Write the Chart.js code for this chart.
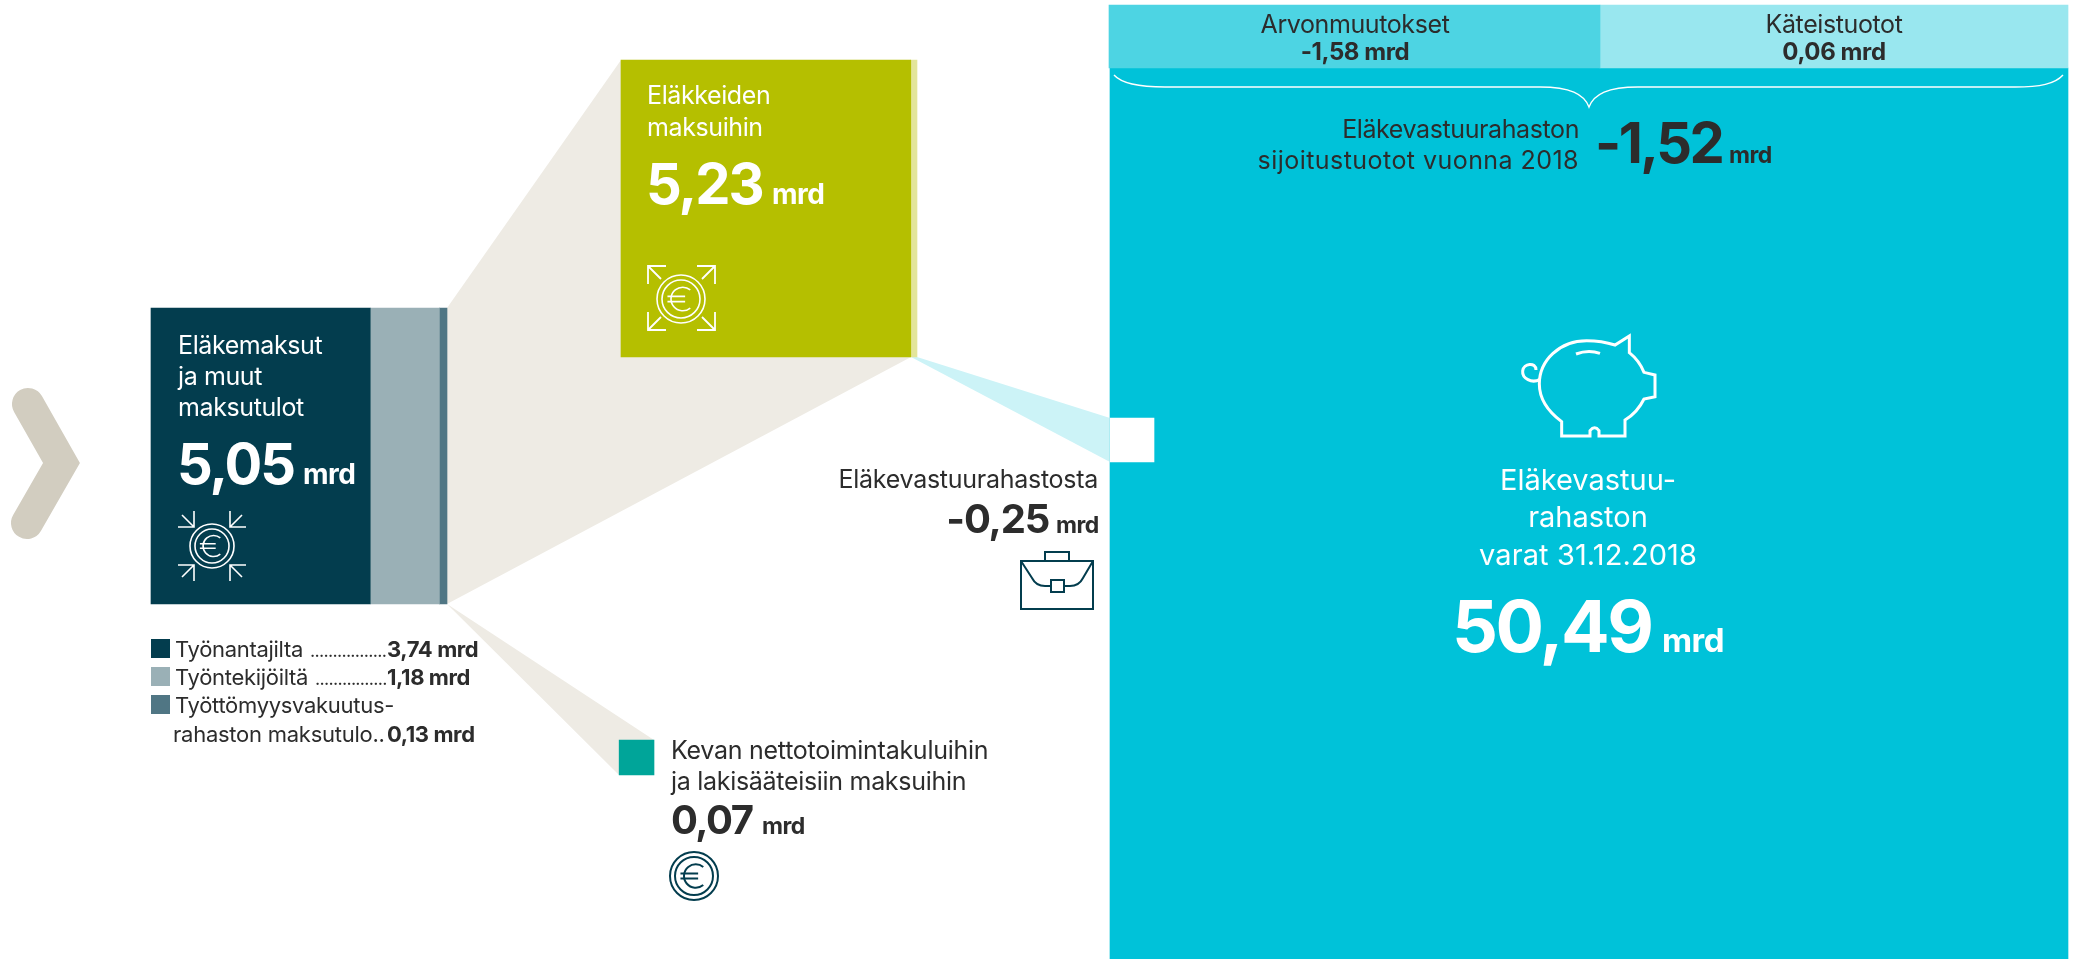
<!DOCTYPE html>
<html lang="fi">
<head>
<meta charset="utf-8">
<title>Eläkevastuurahasto 2018</title>
<script src="https://cdn.jsdelivr.net/npm/chart.js@4"></script>
<style>
  html, body { margin: 0; background: #fff; }
  canvas { display: block; }
</style>
</head>
<body>
<canvas id="flowChart" width="2075" height="959"></canvas>
<script>
// Values in billions of euros
const incomeLabels = ['Työnantajilta', 'Työntekijöiltä', 'Työttömyysvakuutus-'];
const incomeValues = [3.74, 1.18, 0.13];
const incomeTotal = 5.05;
const pensionValues = [5.12, 0.11];
const pensionTotal = 5.23;
const costValue = 0.07;
const fundTransfer = -0.25;
const returnLabels = ['Arvonmuutokset', 'Käteistuotot'];
const returnValues = [-1.58, 0.06];
const returnTotal = -1.52;
const fundAssets = 50.49;

const incomeColors = ['#033d4e', '#9ab0b6', '#507684'];
const pensionColors = ['#b5bf00', '#e3e59a'];
const returnColors = ['#4dd4e3', '#99e7ef'];
const DARK = '#033d4e', INK = '#2c2c2c', WHITE = '#ffffff';

const PX_PER_MRD_AREA = 17350; // the small square is sized by area

const fi = (v) => v.toFixed(2).replace('.', ',');

function bar(x0, x1, top, bottom, color) {
    return {
        data: [{ x: [x0, x1], y: (top + bottom) / 2 }],
        barThickness: bottom - top,
        backgroundColor: color,
        grouped: false,
    };
}

// Splits a box of the given width between the parts of a total
function splitBars(values, colors, left, width, top, bottom) {
    const total = values.reduce((a, b) => a + b, 0);
    let cur = left;
    return values.map((v, i) => {
        const next = cur + (v / total) * width;
        const b = bar(cur, next, top, bottom, colors[i]);
        cur = next;
        return b;
    });
}

const costSide = Math.sqrt(costValue * PX_PER_MRD_AREA);

// First dataset ends up on top when drawn
const datasets = [
    bar(1110, 1154, 418, 462, WHITE),
    ...splitBars(incomeValues, incomeColors, 151, 296, 308, 604),
    ...splitBars(pensionValues, pensionColors, 621, 296, 60, 357),
    bar(654 - costSide, 654, 740, 740 + costSide, '#00a599'),
    bar(1109, 1600, 5, 68, returnColors[0]),
    bar(1600, 2068, 5, 68, returnColors[1]),
    bar(1110, 2068, 68, 959, '#00c2d9'),
];

const FONT = 'Inter, "Noto Sans", sans-serif';

function text(ctx, str, x, y, size, opts = {}) {
    ctx.font = `${opts.weight || 400} ${size}px ${FONT}`;
    ctx.fillStyle = opts.color || INK;
    ctx.textAlign = opts.align || 'left';
    ctx.textBaseline = 'alphabetic';
    ctx.letterSpacing = (opts.spacing || 0) + 'px';
    ctx.fillText(str, x, y);
    ctx.letterSpacing = '0px';
}

function poly(ctx, pts, color) {
    ctx.beginPath();
    pts.forEach(([x, y], i) => (i ? ctx.lineTo(x, y) : ctx.moveTo(x, y)));
    ctx.closePath();
    ctx.fillStyle = color;
    ctx.fill();
}

function coin(ctx, cx, cy, rOut, rIn, color, lw) {
    ctx.strokeStyle = color;
    ctx.lineWidth = lw;
    ctx.beginPath(); ctx.arc(cx, cy, rOut, 0, Math.PI * 2); ctx.stroke();
    ctx.beginPath(); ctx.arc(cx, cy, rIn, 0, Math.PI * 2); ctx.stroke();
    // euro sign
    const r = rIn * 0.62;
    ctx.beginPath();
    ctx.arc(cx + r * 0.15, cy, r, Math.PI * 0.28, Math.PI * 1.72);
    ctx.stroke();
    ctx.beginPath();
    ctx.moveTo(cx - r * 1.15, cy - r * 0.22); ctx.lineTo(cx + r * 0.35, cy - r * 0.22);
    ctx.moveTo(cx - r * 1.15, cy + r * 0.22); ctx.lineTo(cx + r * 0.35, cy + r * 0.22);
    ctx.stroke();
}

// Corner arrow with its head at (hx, hy), sx/sy give the direction the arms run
function arrow(ctx, hx, hy, sx, sy, arm, tail) {
    ctx.beginPath();
    ctx.moveTo(hx + sx * arm, hy);
    ctx.lineTo(hx, hy);
    ctx.lineTo(hx, hy + sy * arm);
    ctx.moveTo(hx, hy);
    ctx.lineTo(hx + sx * tail, hy + sy * tail);
    ctx.stroke();
}

function briefcase(ctx) {
    ctx.strokeStyle = DARK;
    ctx.lineWidth = 2;
    ctx.strokeRect(1021, 561, 72, 48);
    ctx.strokeRect(1045, 552, 24, 9);
    ctx.strokeRect(1051, 580, 13, 12);
    ctx.beginPath();
    ctx.moveTo(1021, 561);
    ctx.lineTo(1032, 578);
    ctx.quadraticCurveTo(1036, 586, 1045, 586);
    ctx.lineTo(1051, 586);
    ctx.moveTo(1064, 586);
    ctx.lineTo(1070, 586);
    ctx.quadraticCurveTo(1079, 586, 1083, 578);
    ctx.lineTo(1093, 561);
    ctx.stroke();
}

function piggy(ctx) {
    const px = (x) => 1400 + x / 3, py = (y) => 310 + y / 3;
    ctx.strokeStyle = WHITE;
    ctx.lineWidth = 3;
    ctx.lineJoin = 'miter';
    ctx.beginPath();
    ctx.moveTo(px(485), py(378));
    ctx.lineTo(px(485), py(335));
    ctx.bezierCurveTo(px(445), py(305), px(418), py(270), px(418), py(222));
    ctx.bezierCurveTo(px(418), py(150), px(480), py(92), px(560), py(92));
    ctx.quadraticCurveTo(px(605), py(92), px(645), py(105));
    ctx.lineTo(px(688), py(78));
    ctx.lineTo(px(688), py(128));
    ctx.quadraticCurveTo(px(718), py(152), px(732), py(187));
    ctx.lineTo(px(765), py(195));
    ctx.lineTo(px(765), py(260));
    ctx.lineTo(px(732), py(267));
    ctx.quadraticCurveTo(px(712), py(308), px(675), py(330));
    ctx.lineTo(px(675), py(378));
    ctx.lineTo(px(597), py(378));
    ctx.lineTo(px(597), py(362));
    ctx.quadraticCurveTo(px(584), py(345), px(570), py(362));
    ctx.lineTo(px(570), py(378));
    ctx.closePath();
    ctx.stroke();
    // coin slot
    ctx.beginPath();
    ctx.moveTo(px(528), py(132));
    ctx.quadraticCurveTo(px(565), py(118), px(600), py(130));
    ctx.stroke();
    // tail
    ctx.beginPath();
    ctx.moveTo(px(420), py(208));
    ctx.bezierCurveTo(px(395), py(222), px(366), py(205), px(368), py(183));
    ctx.bezierCurveTo(px(370), py(160), px(408), py(155), px(408), py(180));
    ctx.stroke();
}

function brace(ctx) {
    ctx.strokeStyle = WHITE;
    ctx.lineWidth = 1.4;
    ctx.beginPath();
    ctx.moveTo(1114, 75);
    ctx.bezierCurveTo(1122, 84, 1140, 87, 1165, 87);
    ctx.lineTo(1540, 87);
    ctx.bezierCurveTo(1570, 87, 1584, 94, 1589, 107);
    ctx.bezierCurveTo(1594, 94, 1608, 87, 1638, 87);
    ctx.lineTo(2015, 87);
    ctx.bezierCurveTo(2040, 87, 2055, 84, 2063, 75);
    ctx.stroke();
}

// Connectors, chevron and legend swatches go under the bars
const underlay = {
    id: 'underlay',
    beforeDatasetsDraw(chart) {
        const { ctx } = chart;
        ctx.save();
        poly(ctx, [[447, 308], [621, 60], [911, 357], [447, 604]], '#eeebe4');
        poly(ctx, [[447, 604], [654, 740], [619, 775]], '#eeebe4');
        poly(ctx, [[911, 357], [917, 357], [1110, 418], [1110, 462]], '#ccf3f7');
        ctx.strokeStyle = '#d2cdc0';
        ctx.lineWidth = 32;
        ctx.lineCap = 'round';
        ctx.lineJoin = 'miter';
        ctx.beginPath();
        ctx.moveTo(28, 404);
        ctx.lineTo(61.5, 463);
        ctx.lineTo(27, 523);
        ctx.stroke();
        ctx.lineCap = 'butt';
        incomeColors.forEach((c, i) => {
            ctx.fillStyle = c;
            ctx.fillRect(151, 639 + i * 28, 19, 19);
        });
        ctx.restore();
    },
};

// All labels and icons sit on top of the bars
const overlay = {
    id: 'overlay',
    afterDatasetsDraw(chart) {
        const { ctx } = chart;
        ctx.save();

        // contributions box
        text(ctx, 'Eläkemaksut', 178, 354, 25, { color: WHITE, spacing: -0.4 });
        text(ctx, 'ja muut', 178, 385, 25, { color: WHITE, spacing: -0.4 });
        text(ctx, 'maksutulot', 178, 416, 25, { color: WHITE, spacing: -0.4 });
        text(ctx, fi(incomeTotal), 177, 484, 56, { color: WHITE, weight: 700, spacing: -2 });
        text(ctx, 'mrd', 303, 484, 28, { color: WHITE, weight: 700, spacing: -0.5 });
        coin(ctx, 212, 546, 22, 17, WHITE, 1.6);
        ctx.strokeStyle = WHITE;
        ctx.lineWidth = 1.6;
        arrow(ctx, 194, 527, -1, -1, 16, 12);
        arrow(ctx, 230, 527, 1, -1, 16, 12);
        arrow(ctx, 194, 565, -1, 1, 16, 12);
        arrow(ctx, 230, 565, 1, 1, 16, 12);

        // contributions legend
        text(ctx, incomeLabels[0], 175, 657, 22, { spacing: -0.3 });
        text(ctx, '.'.repeat(17), 310, 657, 18, { spacing: -0.7 });
        text(ctx, fi(incomeValues[0]) + ' mrd', 387, 657, 22, { weight: 700, spacing: -0.4 });
        text(ctx, incomeLabels[1], 175, 685, 22, { spacing: -0.3 });
        text(ctx, '.'.repeat(16), 315, 685, 18, { spacing: -0.7 });
        text(ctx, fi(incomeValues[1]) + ' mrd', 387, 685, 22, { weight: 700, spacing: -0.4 });
        text(ctx, incomeLabels[2], 175, 713, 22, { spacing: -0.3 });
        text(ctx, 'rahaston maksutulo..', 173, 742, 22, { spacing: -0.25 });
        text(ctx, fi(incomeValues[2]) + ' mrd', 387, 742, 22, { weight: 700, spacing: -0.4 });

        // pension payments box
        text(ctx, 'Eläkkeiden', 647, 104, 25, { color: WHITE, spacing: -0.4 });
        text(ctx, 'maksuihin', 647, 136, 25, { color: WHITE, spacing: -0.4 });
        text(ctx, fi(pensionTotal), 646, 204, 56, { color: WHITE, weight: 700, spacing: -2 });
        text(ctx, 'mrd', 772, 204, 28, { color: WHITE, weight: 700, spacing: -0.5 });
        coin(ctx, 681, 299, 24, 19, WHITE, 1.6);
        ctx.strokeStyle = WHITE;
        ctx.lineWidth = 1.8;
        arrow(ctx, 648, 266, 1, 1, 18, 13);
        arrow(ctx, 715, 266, -1, 1, 18, 13);
        arrow(ctx, 648, 330, 1, -1, 18, 13);
        arrow(ctx, 715, 330, -1, -1, 18, 13);

        // transfer from the fund
        text(ctx, 'Eläkevastuurahastosta', 1098, 488, 25, { align: 'right', spacing: -0.27 });
        text(ctx, fi(fundTransfer), 1049, 533, 40, { align: 'right', weight: 700, spacing: -1.2 });
        text(ctx, 'mrd', 1056, 533, 23, { weight: 700, spacing: -0.5 });
        briefcase(ctx);

        // running costs
        text(ctx, 'Kevan nettotoimintakuluihin', 671, 759, 25, { spacing: -0.27 });
        text(ctx, 'ja lakisääteisiin maksuihin', 671, 790, 25, { spacing: -0.3 });
        text(ctx, fi(costValue), 671, 834, 40, { weight: 700, spacing: -1.5 });
        text(ctx, 'mrd', 762, 834, 23, { weight: 700, spacing: -0.5 });
        coin(ctx, 694, 876, 24, 19, DARK, 2);

        // investment return tiles
        text(ctx, returnLabels[0], 1355, 33, 25, { align: 'center', spacing: -0.4 });
        text(ctx, fi(returnValues[0]) + ' mrd', 1355, 60, 24, { align: 'center', weight: 700, spacing: -0.4 });
        text(ctx, returnLabels[1], 1834, 33, 25, { align: 'center', spacing: -0.4 });
        text(ctx, fi(returnValues[1]) + ' mrd', 1834, 60, 24, { align: 'center', weight: 700, spacing: -0.4 });
        brace(ctx);
        text(ctx, 'Eläkevastuurahaston', 1579, 138, 25, { align: 'right', spacing: -0.4 });
        text(ctx, 'sijoitustuotot vuonna 2018', 1579, 169, 25, { align: 'right', spacing: 0.45 });
        text(ctx, fi(returnTotal), 1595, 163, 56, { weight: 700, spacing: -2.5 });
        text(ctx, 'mrd', 1729, 163, 23, { weight: 700, spacing: -0.5 });

        // fund assets
        piggy(ctx);
        text(ctx, 'Eläkevastuu-', 1588, 490, 29, { align: 'center', color: WHITE, spacing: 0 });
        text(ctx, 'rahaston', 1588, 527, 29, { align: 'center', color: WHITE, spacing: 0 });
        text(ctx, 'varat 31.12.2018', 1588, 565, 29, { align: 'center', color: WHITE, spacing: 0.1 });
        text(ctx, fi(fundAssets), 1452, 652, 72, { color: WHITE, weight: 700, spacing: -2.5 });
        text(ctx, 'mrd', 1662, 652, 33, { color: WHITE, weight: 700, spacing: -0.5 });

        ctx.restore();
    },
};

new Chart(document.getElementById('flowChart').getContext('2d'), {
    type: 'bar',
    data: { datasets },
    options: {
        indexAxis: 'y',
        responsive: false,
        animation: false,
        layout: { padding: 0 },
        plugins: { legend: { display: false }, tooltip: { enabled: false } },
        scales: {
            x: { type: 'linear', min: 0, max: 2075, display: false },
            y: { type: 'linear', min: 0, max: 959, reverse: true, offset: false, display: false },
        },
    },
    plugins: [underlay, overlay],
});
</script>
</body>
</html>
